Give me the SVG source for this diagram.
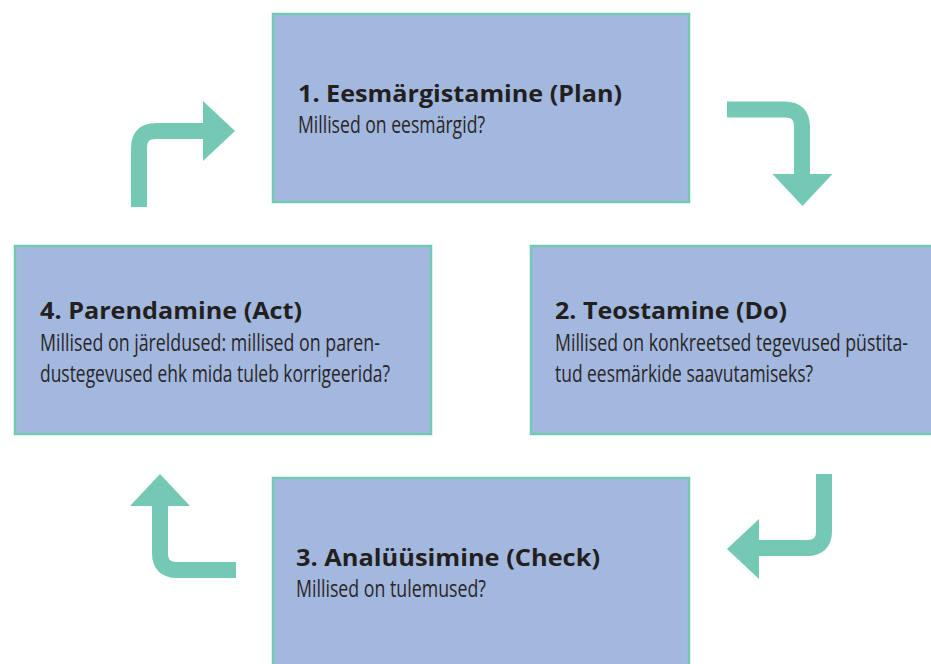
<svg xmlns="http://www.w3.org/2000/svg" width="931" height="664" viewBox="0 0 931 664">
<style>
.box{fill:#a3b8de;stroke:#74c9b5;stroke-width:2.5}
.h{font-family:"Open Sans","Liberation Sans",sans-serif;font-weight:bold;font-size:23px;fill:#231f20}
.t{font-family:"Open Sans","Liberation Sans",sans-serif;font-size:23px;fill:#2a2627}
.stem{fill:none;stroke:#74c9b5;stroke-width:16}
.head{fill:#74c9b5}
</style>
<rect width="931" height="664" fill="#ffffff"/>
<g id="node-plan">
<rect class="box" x="273" y="14" width="416" height="188"/>
<text class="h" x="298" y="102" textLength="324" lengthAdjust="spacingAndGlyphs">1. Eesmärgistamine (Plan)</text>
<text class="t" x="298" y="133" textLength="187" lengthAdjust="spacingAndGlyphs">Millised on eesmärgid?</text>
</g>
<g id="node-do">
<rect class="box" x="531" y="246" width="402" height="188"/>
<text class="h" x="555" y="319" textLength="232" lengthAdjust="spacingAndGlyphs">2. Teostamine (Do)</text>
<text class="t" x="555" y="351" textLength="353" lengthAdjust="spacingAndGlyphs">Millised on konkreetsed tegevused püstita-</text>
<text class="t" x="555" y="382" textLength="258" lengthAdjust="spacingAndGlyphs">tud eesmärkide saavutamiseks?</text>
</g>
<g id="node-check">
<rect class="box" x="273" y="478" width="416" height="200"/>
<text class="h" x="296" y="566" textLength="304" lengthAdjust="spacingAndGlyphs">3. Analüüsimine (Check)</text>
<text class="t" x="296" y="597" textLength="190" lengthAdjust="spacingAndGlyphs">Millised on tulemused?</text>
</g>
<g id="node-act">
<rect class="box" x="15" y="246" width="416" height="188"/>
<text class="h" x="40" y="319" textLength="262" lengthAdjust="spacingAndGlyphs">4. Parendamine (Act)</text>
<text class="t" x="40" y="351" textLength="340" lengthAdjust="spacingAndGlyphs">Millised on järeldused: millised on paren-</text>
<text class="t" x="40" y="382" textLength="350" lengthAdjust="spacingAndGlyphs">dustegevused ehk mida tuleb korrigeerida?</text>
</g>
<g id="connectors">
<path class="stem" d="M139 207 V148 Q139 131 156 131 H205"/>
<polygon class="head" points="203,101 235,131 203,161"/>
<path class="stem" d="M727 109.5 H785 Q802 109.5 802 127 V176"/>
<polygon class="head" points="772.5,174 832.5,174 802.5,206"/>
<path class="stem" d="M824 474 V531 Q824 548 807 548 H757"/>
<polygon class="head" points="759,519 759,579 727,549"/>
<path class="stem" d="M160 504 V553 Q160 570 177 570 H236"/>
<polygon class="head" points="130,506 190,506 160,474"/>
</g>
</svg>
